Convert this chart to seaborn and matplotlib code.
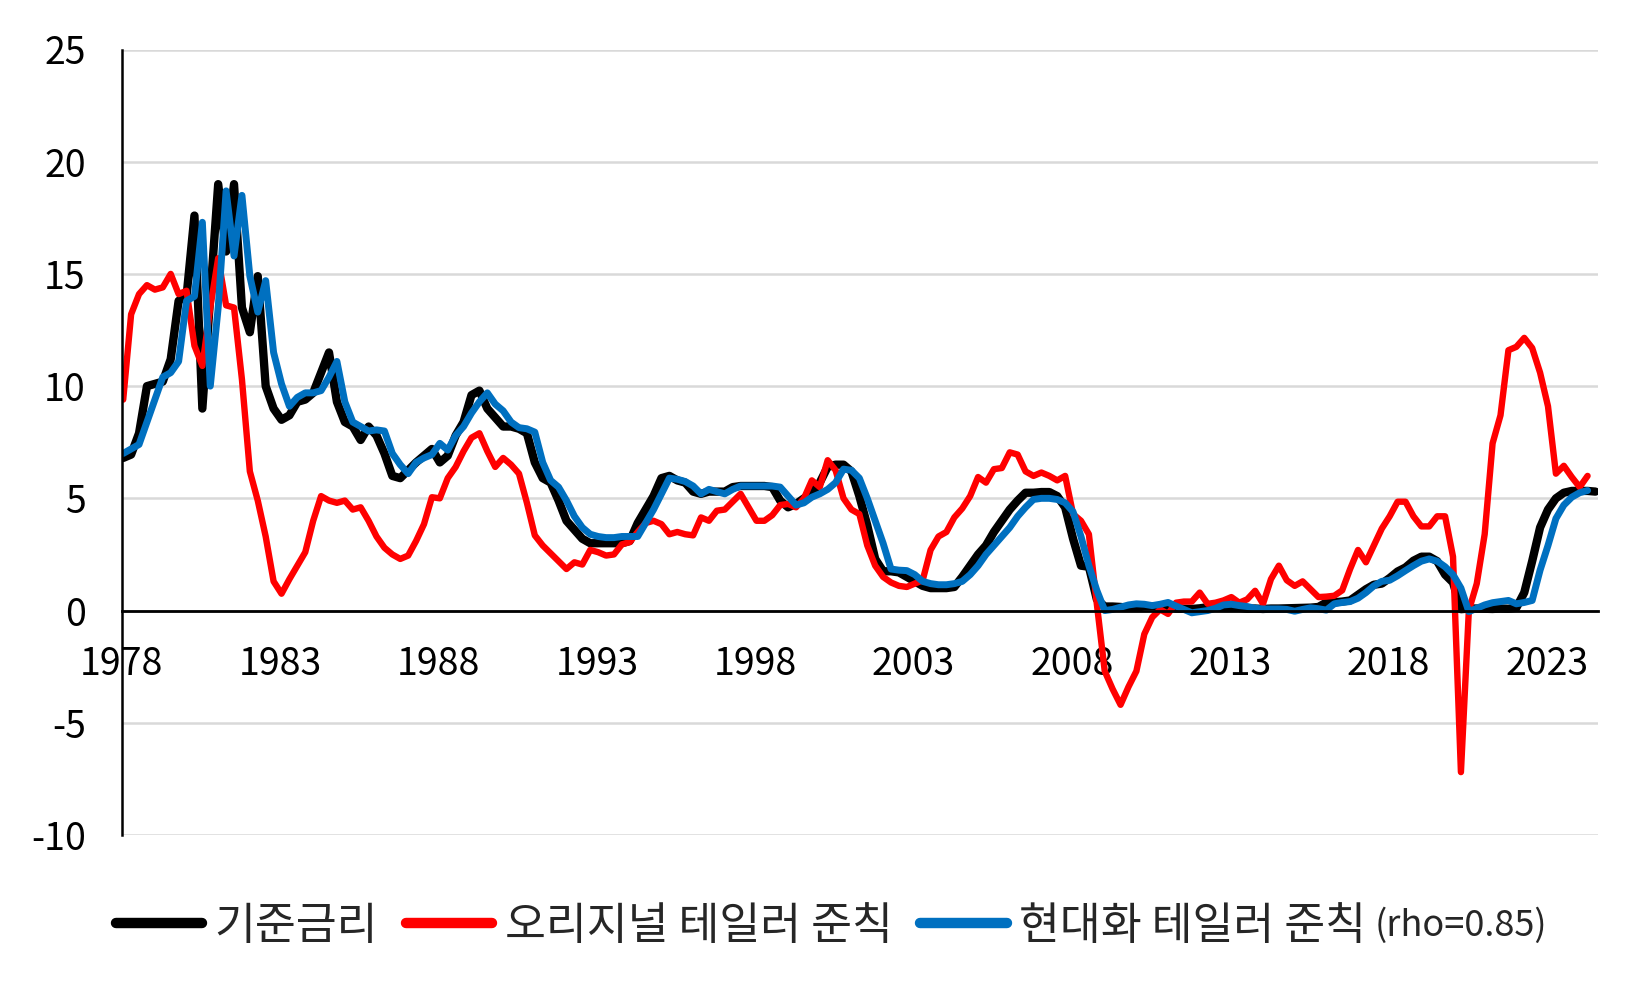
import numpy as np
import pandas as pd
import matplotlib
matplotlib.use("Agg")
import matplotlib.pyplot as plt
from matplotlib.lines import Line2D
import seaborn as sns

# quarterly series, 1978Q1 onwards
policy_rate = [
    6.8, 6.95, 7.9, 10.0,     # 1978
    10.1, 10.2, 11.2, 13.8,   # 1979
    14.0, 17.6, 9.0, 14.0,    # 1980
    19.0, 16.0, 19.0, 13.5,   # 1981
    12.4, 14.9, 10.0, 9.0,    # 1982
    8.5, 8.7, 9.3, 9.4,       # 1983
    9.7, 10.6, 11.5, 9.3,     # 1984
    8.4, 8.2, 7.6, 8.2,       # 1985
    7.8, 7.0, 6.0, 5.9,       # 1986
    6.25, 6.6, 6.9, 7.2,      # 1987
    6.6, 6.9, 7.8, 8.4,       # 1988
    9.6, 9.8, 9.0, 8.6,       # 1989
    8.2, 8.2, 8.1, 7.9,       # 1990
    6.6, 5.9, 5.7, 4.9,       # 1991
    4.0, 3.6, 3.2, 3.0,       # 1992
    3.0, 3.0, 3.0, 3.0,       # 1993
    3.1, 3.9, 4.5, 5.1,       # 1994
    5.9, 6.0, 5.8, 5.7,       # 1995
    5.3, 5.2, 5.3, 5.3,       # 1996
    5.3, 5.5, 5.55, 5.55,     # 1997
    5.55, 5.55, 5.5, 4.9,     # 1998
    4.6, 4.75, 5.0, 5.2,      # 1999
    5.7, 6.4, 6.5, 6.5,       # 2000
    6.2, 5.1, 3.8, 2.3,       # 2001
    1.75, 1.75, 1.7, 1.5,     # 2002
    1.3, 1.1, 1.0, 1.0,       # 2003
    1.0, 1.05, 1.5, 2.0,      # 2004
    2.5, 2.9, 3.5, 4.0,       # 2005
    4.5, 4.9, 5.25, 5.25,     # 2006
    5.28, 5.28, 5.1, 4.6,     # 2007
    3.2, 2.0, 1.95, 0.5,      # 2008
    0.18, 0.18, 0.16, 0.12,   # 2009
    0.13, 0.19, 0.19, 0.19,   # 2010
    0.16, 0.09, 0.08, 0.07,   # 2011
    0.1, 0.15, 0.14, 0.16,    # 2012
    0.14, 0.12, 0.08, 0.09,   # 2013
    0.07, 0.09, 0.09, 0.1,    # 2014
    0.11, 0.12, 0.13, 0.16,   # 2015
    0.36, 0.37, 0.4, 0.45,    # 2016
    0.7, 0.95, 1.15, 1.2,     # 2017
    1.45, 1.74, 1.92, 2.22,   # 2018
    2.4, 2.4, 2.2, 1.6,       # 2019
    1.25, 0.06, 0.09, 0.09,   # 2020
    0.08, 0.07, 0.09, 0.08,   # 2021
    0.12, 0.8, 2.2, 3.7,      # 2022
    4.5, 5.0, 5.25, 5.33,     # 2023
    5.33, 5.33, 5.3,          # 2024
]

taylor_original = [
    9.4, 13.2, 14.1, 14.5,    # 1978
    14.3, 14.4, 15.0, 14.1,   # 1979
    14.25, 11.8, 10.9, 13.5,  # 1980
    15.7, 13.6, 13.5, 10.3,   # 1981
    6.2, 4.9, 3.3, 1.3,       # 1982
    0.75, 1.4, 2.0, 2.6,      # 1983
    4.0, 5.1, 4.9, 4.8,       # 1984
    4.9, 4.5, 4.6, 4.0,       # 1985
    3.3, 2.8, 2.5, 2.3,       # 1986
    2.45, 3.1, 3.85, 5.05,    # 1987
    5.0, 5.9, 6.4, 7.1,       # 1988
    7.7, 7.9, 7.1, 6.4,       # 1989
    6.8, 6.5, 6.1, 4.8,       # 1990
    3.35, 2.9, 2.55, 2.2,     # 1991
    1.85, 2.15, 2.05, 2.7,    # 1992
    2.6, 2.45, 2.5, 2.95,     # 1993
    3.05, 3.5, 3.9, 4.0,      # 1994
    3.85, 3.4, 3.5, 3.4,      # 1995
    3.35, 4.15, 4.0, 4.45,    # 1996
    4.5, 4.85, 5.2, 4.6,      # 1997
    4.0, 4.0, 4.25, 4.7,      # 1998
    4.75, 4.6, 5.0, 5.8,      # 1999
    5.5, 6.7, 6.25, 5.0,      # 2000
    4.5, 4.3, 2.9, 2.0,       # 2001
    1.5, 1.25, 1.1, 1.05,     # 2002
    1.2, 1.35, 2.7, 3.3,      # 2003
    3.5, 4.15, 4.55, 5.1,     # 2004
    5.95, 5.7, 6.3, 6.35,     # 2005
    7.05, 6.95, 6.2, 6.0,     # 2006
    6.15, 6.0, 5.8, 6.0,      # 2007
    4.3, 4.0, 3.4, 0.3,       # 2008
    -2.7, -3.5, -4.2, -3.4,   # 2009
    -2.7, -1.05, -0.3, 0.05,  # 2010
    -0.15, 0.35, 0.4, 0.4,    # 2011
    0.8, 0.3, 0.35, 0.45,     # 2012
    0.6, 0.35, 0.5, 0.88,     # 2013
    0.3, 1.4, 2.0, 1.35,      # 2014
    1.1, 1.3, 0.95, 0.6,      # 2015
    0.62, 0.66, 0.9, 1.85,    # 2016
    2.7, 2.15, 2.9, 3.65,     # 2017
    4.2, 4.85, 4.85, 4.2,     # 2018
    3.75, 3.75, 4.2, 4.2,     # 2019
    2.4, -7.2, 0.0, 1.2,      # 2020
    3.4, 7.45, 8.7, 11.6,     # 2021
    11.75, 12.15, 11.7, 10.6, # 2022
    9.1, 6.1, 6.45, 5.95,     # 2023
    5.5, 6.0,                 # 2024
]

taylor_modern = [
    7.0, 7.2, 7.4, 8.4,       # 1978
    9.4, 10.4, 10.6, 11.1,    # 1979
    13.8, 14.0, 17.3, 10.0,   # 1980
    13.5, 18.7, 15.8, 18.5,   # 1981
    14.9, 13.3, 14.7, 11.5,   # 1982
    10.1, 9.1, 9.5, 9.7,      # 1983
    9.7, 9.8, 10.4, 11.1,     # 1984
    9.3, 8.4, 8.2, 8.0,       # 1985
    8.05, 8.0, 7.0, 6.5,      # 1986
    6.1, 6.6, 6.8, 6.95,      # 1987
    7.45, 7.15, 7.8, 8.2,     # 1988
    8.8, 9.3, 9.7, 9.2,       # 1989
    8.9, 8.4, 8.15, 8.1,      # 1990
    7.95, 6.6, 5.8, 5.5,      # 1991
    4.9, 4.2, 3.7, 3.4,       # 1992
    3.3, 3.25, 3.25, 3.3,     # 1993
    3.3, 3.3, 3.9, 4.5,       # 1994
    5.2, 5.9, 5.85, 5.75,     # 1995
    5.55, 5.2, 5.4, 5.3,      # 1996
    5.2, 5.4, 5.55, 5.55,     # 1997
    5.55, 5.55, 5.55, 5.5,    # 1998
    5.1, 4.7, 4.8, 5.05,      # 1999
    5.2, 5.4, 5.7, 6.3,       # 2000
    6.25, 5.9, 5.0, 4.0,      # 2001
    3.0, 1.85, 1.8, 1.78,     # 2002
    1.6, 1.3, 1.2, 1.15,      # 2003
    1.15, 1.2, 1.3, 1.6,      # 2004
    2.0, 2.5, 2.9, 3.3,       # 2005
    3.7, 4.2, 4.6, 4.95,      # 2006
    5.0, 5.0, 4.95, 4.8,      # 2007
    4.4, 3.3, 2.0, 0.9,       # 2008
    0.0, 0.05, 0.15, 0.25,    # 2009
    0.3, 0.28, 0.22, 0.28,    # 2010
    0.36, 0.2, 0.05, -0.1,    # 2011
    -0.05, 0.0, 0.1, 0.25,    # 2012
    0.28, 0.22, 0.18, 0.1,    # 2013
    0.07, 0.07, 0.07, 0.05,   # 2014
    -0.03, 0.05, 0.12, 0.08,  # 2015
    0.02, 0.3, 0.36, 0.4,     # 2016
    0.55, 0.8, 1.1, 1.3,      # 2017
    1.35, 1.55, 1.78, 2.0,    # 2018
    2.2, 2.3, 2.2, 1.95,      # 2019
    1.6, 1.0, -0.05, 0.1,     # 2020
    0.25, 0.35, 0.4, 0.45,    # 2021
    0.3, 0.36, 0.45, 1.8,     # 2022
    2.9, 4.1, 4.7, 5.05,      # 2023
    5.25, 5.35,               # 2024
]

series_names = ["기준금리", "오리지널 테일러 준칙", "현대화 테일러 준칙"]
rho_note = "(rho=0.85)"
series_colors = ["#000000", "#FF0000", "#0070C0"]
series_widths = [6.0, 4.6, 5.0]
year_ticks = list(range(1978, 2024, 5))
y_ticks = list(range(-10, 26, 5))


def quarter_x(values):
    # quarterly observations, plotted a little after each quarter start
    q = pd.period_range("1978Q1", periods=len(values), freq="Q")
    return q.year + (q.quarter - 1) / 4 + 0.04


sns.set_style("white")
plt.rcParams["font.family"] = ["Noto Sans CJK KR", "DejaVu Sans"]

fig = plt.figure(figsize=(16.5, 9.9), dpi=100)
ax = fig.add_axes([0.0739, 0.1566, 0.8946, 0.7934])

for vals, name, col, lw in zip([policy_rate, taylor_original, taylor_modern],
                               series_names, series_colors, series_widths):
    sns.lineplot(x=quarter_x(vals), y=vals, ax=ax, color=col, linewidth=lw,
                 estimator=None, sort=False, legend=False)

ax.set_xlim(1978, 2024.62)
ax.set_ylim(-10, 25)
ax.set_yticks(y_ticks)
ax.set_yticklabels([str(v) for v in y_ticks])
ax.set_xticks(year_ticks)
ax.set_xticklabels([str(v) for v in year_ticks])
ax.yaxis.grid(True, color="#d9d9d9", linewidth=1.8)
ax.xaxis.grid(False)
ax.set_axisbelow(True)

for s in ["top", "right"]:
    ax.spines[s].set_visible(False)
ax.spines["left"].set_color("black")
ax.spines["left"].set_linewidth(1.8)
ax.spines["bottom"].set_position(("data", 0))
ax.spines["bottom"].set_color("black")
ax.spines["bottom"].set_linewidth(2.0)

ax.tick_params(axis="y", direction="out", length=12, width=1.8, labelsize=27,
               pad=14, colors="black")
ax.tick_params(axis="x", direction="out", length=9, width=1.8, labelsize=27,
               pad=16, colors="black")
ax.set_xlabel("")
ax.set_ylabel("")

handles = [Line2D([0], [0], color=c, lw=7.5, solid_capstyle="round")
           for c in series_colors]
leg = fig.legend(handles, series_names, loc="center left",
                 bbox_to_anchor=(0.07, 0.065), ncol=3, frameon=False,
                 fontsize=32, handlelength=1.95, handletextpad=0.28,
                 columnspacing=0.62, borderpad=0, borderaxespad=0)

fig.canvas.draw()
bb = leg.get_texts()[2].get_window_extent()
fig.text((bb.x1 + 8) / fig.bbox.width, (bb.y0 + bb.y1) / 2 / fig.bbox.height,
         rho_note, fontsize=26, va="center", ha="left")

fig.savefig("out.png", dpi=100)
